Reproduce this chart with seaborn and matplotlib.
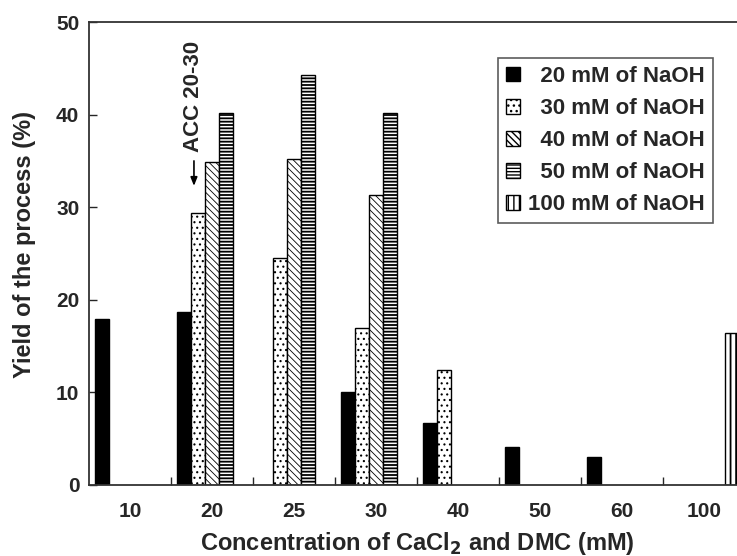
import matplotlib
matplotlib.use("Agg")
import matplotlib.pyplot as plt
import seaborn as sns
import pandas as pd
from matplotlib.ticker import FixedLocator

# ---- data ----
concentrations = ["10", "20", "25", "30", "40", "50", "60", "100"]
naoh_levels = ["20 mM of NaOH", "30 mM of NaOH", "40 mM of NaOH",
               "50 mM of NaOH", "100 mM of NaOH"]
naoh_20 = [17.9, 18.7, None, 10.0, 6.7, 4.1, 3.0, None]
naoh_30 = [None, 29.4, 24.5, 17.0, 12.4, None, None, None]
naoh_40 = [None, 34.9, 35.2, 31.3, None, None, None, None]
naoh_50 = [None, 40.2, 44.3, 40.2, None, None, None, None]
naoh_100 = [None, None, None, None, None, None, None, 16.4]
y_ticks = [0, 10, 20, 30, 40, 50]

series = [naoh_20, naoh_30, naoh_40, naoh_50, naoh_100]
rows = []
for lvl, vals in zip(naoh_levels, series):
    for c, v in zip(concentrations, vals):
        if v is not None:
            rows.append({"conc": c, "naoh": lvl, "yield": v})
df = pd.DataFrame(rows)

sns.set_style("ticks")
plt.rcParams["font.family"] = ["Liberation Sans", "DejaVu Sans"]
plt.rcParams["font.weight"] = "bold"
plt.rcParams["hatch.linewidth"] = 1.0

fig = plt.figure(figsize=(7.37, 5.56), dpi=100)
ax = fig.add_axes([89 / 737, 71 / 556, 656 / 737, 463 / 556])

sns.barplot(data=df, x="conc", y="yield", hue="naoh",
            order=concentrations, hue_order=naoh_levels,
            width=0.85, ax=ax, errorbar=None, legend=False)

styles = [
    dict(facecolor="black", hatch=None, hlw=1.0),
    dict(facecolor="white", hatch="...", hlw=0.8),
    dict(facecolor="white", hatch="\\\\\\\\\\", hlw=0.6),
    dict(facecolor="white", hatch="-----", hlw=1.3),
    dict(facecolor="white", hatch="|||", hlw=1.3),
]
for cont, st in zip(ax.containers, styles):
    for bar in cont:
        bar.set_facecolor(st["facecolor"])
        bar.set_edgecolor("black")
        bar.set_linewidth(1.0)
        if st["hatch"]:
            bar.set_hatch(st["hatch"])
            if hasattr(bar, "set_hatch_linewidth"):
                bar.set_hatch_linewidth(st["hlw"])

ax.set_ylim(0, 50)
ax.set_xlim(-0.5, len(concentrations) - 0.5)
ax.set_yticks(y_ticks)
ax.tick_params(axis="y", direction="in", length=6, width=1.0,
               labelsize=15, pad=7)
ax.tick_params(axis="x", which="major", length=0, labelsize=15, pad=12)
ax.xaxis.set_minor_locator(FixedLocator([i + 0.5 for i in range(len(concentrations) - 1)]))
ax.tick_params(axis="x", which="minor", direction="in", length=6, width=1.0)
for lab in ax.get_xticklabels() + ax.get_yticklabels():
    lab.set_fontweight("bold")

for side in ["left", "bottom", "top", "right"]:
    ax.spines[side].set_linewidth(1.3)
    ax.spines[side].set_color("#333333")

ax.set_xlabel("Concentration of CaCl$_\\mathbf{2}$ and DMC (mM)",
              fontsize=17, fontweight="bold")
ax.xaxis.set_label_coords(0.5, -0.098)
ax.set_ylabel("Yield of the process (%)", fontsize=17, fontweight="bold")
ax.yaxis.set_label_coords(-0.081, 0.52)

# annotation
ax.annotate("", xy=(0.78, 32.0), xytext=(0.78, 35.3),
            arrowprops=dict(arrowstyle="-|>,head_length=0.5,head_width=0.2",
                            color="black", lw=1.2))
ax.text(0.78, 36.0, "ACC 20-30", rotation=90, ha="center", va="bottom",
        fontsize=16, fontweight="bold")

handles = list(ax.containers)
labels = [("\u2007" + l) if not l.startswith("100") else l for l in naoh_levels]
leg = ax.legend(handles, labels, loc="upper left",
                bbox_to_anchor=((498 - 89) / 656, (485 - 58) / 463),
                fontsize=16, frameon=True, fancybox=False,
                handlelength=0.65, handleheight=0.65, handletextpad=0.35,
                labelspacing=0.5, borderpad=0.35, borderaxespad=0)
leg.get_frame().set_edgecolor("#333333")
leg.get_frame().set_linewidth(1.2)
for t in leg.get_texts():
    t.set_fontweight("bold")

fig.savefig("out.png", dpi=100)
